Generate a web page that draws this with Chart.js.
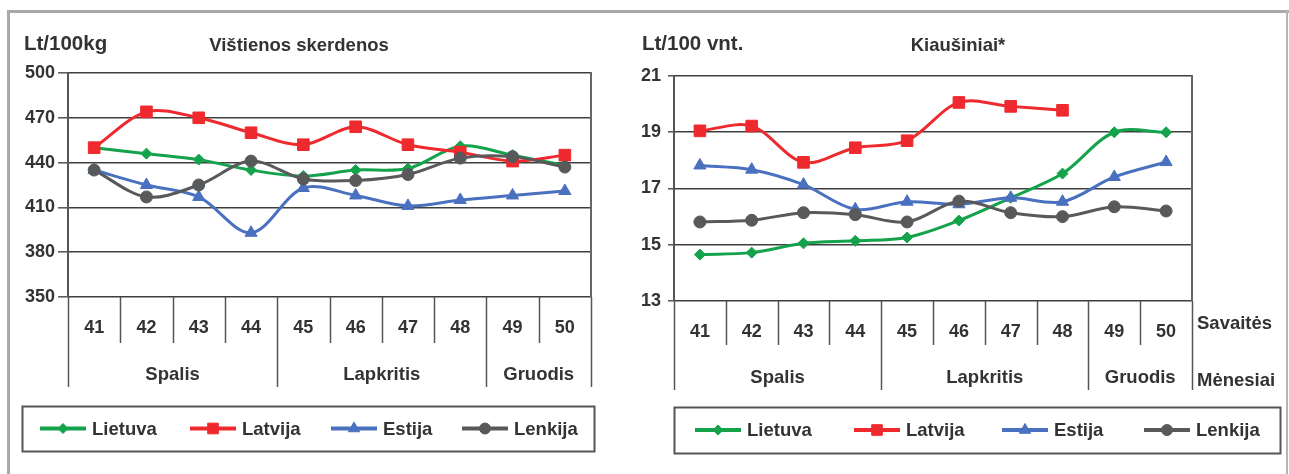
<!DOCTYPE html>
<html><head><meta charset="utf-8">
<script src="https://cdn.jsdelivr.net/npm/chart.js@4/dist/chart.umd.min.js"></script>
<style>
html,body{margin:0;padding:0;background:#fff;}
#wrap{position:relative;width:1289px;height:474px;overflow:hidden;background:#fff;}
.fr{position:absolute;background:#a9a9a9;}
canvas{position:absolute;top:0;}
</style></head><body>
<div id="wrap">
<div class="fr" style="left:7px;top:10px;width:1282px;height:3px"></div>
<div class="fr" style="left:7px;top:10px;width:3px;height:464px"></div>
<div class="fr" style="left:1286px;top:10px;width:2px;height:464px;background:#b4b4b4"></div>
<canvas id="c1" width="640" height="474" style="left:0"></canvas>
<canvas id="c2" width="649" height="474" style="left:640px"></canvas>
</div>
<script>
// ---- data ----
const weeks = ['41','42','43','44','45','46','47','48','49','50'];
const months = ['Spalis','Lapkritis','Gruodis'];
const monthSpans = [4, 4, 2];
const seriesNames = ['Lietuva','Latvija','Estija','Lenkija'];

const chickenTicks = [350, 380, 410, 440, 470, 500];
const chickenLietuva = [450, 446, 442, 435, 431, 435, 436, 451, 445, 438];
const chickenLatvija = [450, 474, 470, 460, 452, 464, 452, 447, 441, 445];
const chickenEstija  = [435, 425, 417, 393, 423, 418, 411, 415, 418, 421];
const chickenLenkija = [435, 417, 425, 441, 429, 428, 432, 443, 444, 437];

const eggTicks = [13, 15, 17, 19, 21];
const eggLietuva = [14.65, 14.72, 15.05, 15.14, 15.26, 15.86, 16.67, 17.53, 19.0, 19.0];
const eggLatvija = [19.05, 19.22, 17.93, 18.45, 18.7, 20.06, 19.92, 19.78, null, null];
const eggEstija  = [17.82, 17.67, 17.14, 16.26, 16.53, 16.44, 16.67, 16.53, 17.41, 17.94];
const eggLenkija = [15.81, 15.87, 16.14, 16.07, 15.81, 16.55, 16.14, 16.0, 16.35, 16.2];

// ---- styles ----
const FONT = "'Liberation Sans',Arial,sans-serif";
const TXT = '#333333';
const styles = [
  {color:'#14a34b', pointStyle:'rectRot', radius:5.5, lr:5},
  {color:'#ee2a2e', pointStyle:'rect', radius:8.2, lr:7.5},
  {color:'#4a70c0', pointStyle:'triangle', radius:7, lr:6.5},
  {color:'#58595b', pointStyle:'circle', radius:6, lr:5.5}
];
Chart.defaults.font.family = FONT;
Chart.defaults.font.weight = 'bold';
Chart.defaults.color = TXT;

function makeDatasets(arrs){
  return arrs.map((d,i)=>({
    label: seriesNames[i], data: d,
    borderColor: styles[i].color, backgroundColor: styles[i].color,
    pointBackgroundColor: styles[i].color, pointBorderColor: styles[i].color,
    pointStyle: styles[i].pointStyle, pointRadius: styles[i].radius, pointBorderWidth: 1,
    borderWidth: 3, tension: 0.33, order: 4 - i, spanGaps: false
  }));
}

function decor(o){
  return {
    id:'decor',
    afterDraw(chart){
      const ctx = chart.ctx, xs = chart.scales.x, a = chart.chartArea;
      const n = weeks.length;
      const half = (xs.getPixelForValue(1) - xs.getPixelForValue(0)) / 2;
      const bnd = i => i < n ? xs.getPixelForValue(i) - half : xs.getPixelForValue(n-1) + half;
      const longIdx = [0]; let acc = 0; monthSpans.forEach(s=>{acc+=s; longIdx.push(acc);});
      ctx.save();
      // right border of plot
      ctx.strokeStyle = '#666'; ctx.lineWidth = 2;
      ctx.beginPath(); ctx.moveTo(bnd(n), a.top - 1); ctx.lineTo(bnd(n), a.bottom); ctx.stroke();
      // separators
      ctx.strokeStyle = '#555'; ctx.lineWidth = 1.5;
      for (let i = 0; i <= n; i++){
        const px = Math.round(bnd(i)) + 0.5;
        const y2 = longIdx.includes(i) ? o.longBottom : o.weekBottom;
        ctx.beginPath(); ctx.moveTo(px, a.bottom); ctx.lineTo(px, y2); ctx.stroke();
      }
      // month labels
      ctx.fillStyle = TXT; ctx.font = 'bold 18.5px ' + FONT;
      ctx.textAlign = 'center'; ctx.textBaseline = 'middle';
      for (let m = 0; m < months.length; m++){
        const cx = (bnd(longIdx[m]) + bnd(longIdx[m+1])) / 2;
        ctx.fillText(months[m], cx, o.monthY);
      }
      // titles
      ctx.textBaseline = 'alphabetic';
      ctx.textAlign = 'left'; ctx.font = 'bold 20.5px ' + FONT;
      ctx.fillText(o.unit, o.unitX, 50);
      ctx.textAlign = 'center'; ctx.font = 'bold 18.5px ' + FONT;
      ctx.fillText(o.title, o.titleX, 51);
      // extra axis names
      if (o.side){
        ctx.textAlign = 'left'; ctx.textBaseline = 'middle';
        o.side.forEach(s => ctx.fillText(s.t, s.x, s.y));
      }
      // legend
      const L = o.legend;
      ctx.strokeStyle = '#555'; ctx.lineWidth = 2;
      ctx.strokeRect(L.x + 0.5, L.y + 0.5, L.w, L.h);
      const cy = L.y + L.h / 2;
      ctx.textAlign = 'left'; ctx.textBaseline = 'middle'; ctx.font = 'bold 18.5px ' + FONT;
      chart.data.datasets.forEach((ds, i) => {
        const x0 = L.items[i], st = styles[i];
        ctx.strokeStyle = st.color; ctx.fillStyle = st.color; ctx.lineWidth = 4;
        ctx.beginPath(); ctx.moveTo(x0, cy); ctx.lineTo(x0 + 46, cy); ctx.stroke();
        ctx.lineWidth = 1;
        Chart.helpers.drawPoint(ctx, {pointStyle: st.pointStyle, radius: st.lr, rotation: 0, borderWidth: 1}, x0 + 23, cy);
        ctx.fillStyle = TXT;
        ctx.fillText(ds.label, x0 + 52, cy + 1);
      });
      ctx.restore();
    }
  };
}

function makeChart(id, arrs, ticks, geo, o){
  const step = ticks[1] - ticks[0];
  return new Chart(document.getElementById(id), {
    type: 'line',
    data: {labels: weeks, datasets: makeDatasets(arrs)},
    options: {
      responsive: false, animation: false, events: [],
      layout: {padding: {top: geo.top, right: geo.right, left: 0, bottom: 0}},
      plugins: {legend: {display: false}, tooltip: {enabled: false}, title: {display: false}},
      scales: {
        x: {
          type: 'category', offset: true,
          grid: {display: false}, border: {display: false},
          ticks: {font: {size: 18, weight: 'bold'}, color: TXT, padding: 12, maxRotation: 0, autoSkip: false},
          afterFit: s => { s.height = geo.xh; }
        },
        y: {
          min: ticks[0], max: ticks[ticks.length - 1],
          ticks: {stepSize: step, font: {size: 18, weight: 'bold'}, color: TXT, padding: geo.tpad},
          grid: {color: '#3f3f3f', lineWidth: 1.6, tickLength: geo.tl, tickColor: '#555', tickWidth: 1.5},
          border: {display: true, color: '#555', width: 2},
          afterFit: s => { s.width = geo.yw; }
        }
      }
    },
    plugins: [decor(o)]
  });
}

makeChart('c1', [chickenLietuva, chickenLatvija, chickenEstija, chickenLenkija], chickenTicks,
  {top: 73, right: 49, xh: 474 - 297, yw: 68, tl: 10, tpad: 3},
  {unit: 'Lt/100kg', unitX: 24, title: 'Vištienos skerdenos', titleX: 299,
   weekBottom: 343, longBottom: 387, monthY: 375,
   legend: {x: 22, y: 406, w: 572, h: 45, items: [40, 190, 331, 462]}});

makeChart('c2', [eggLietuva, eggLatvija, eggEstija, eggLenkija], eggTicks,
  {top: 76, right: 97, xh: 474 - 301, yw: 34, tl: 6, tpad: 7},
  {unit: 'Lt/100 vnt.', unitX: 2, title: 'Kiaušiniai*', titleX: 318,
   weekBottom: 345, longBottom: 390, monthY: 378,
   side: [{t: 'Savaitės', x: 557, y: 324}, {t: 'Mėnesiai', x: 557, y: 381}],
   legend: {x: 34, y: 407, w: 606, h: 46, items: [55, 214, 362, 504]}});
</script>
</body></html>
